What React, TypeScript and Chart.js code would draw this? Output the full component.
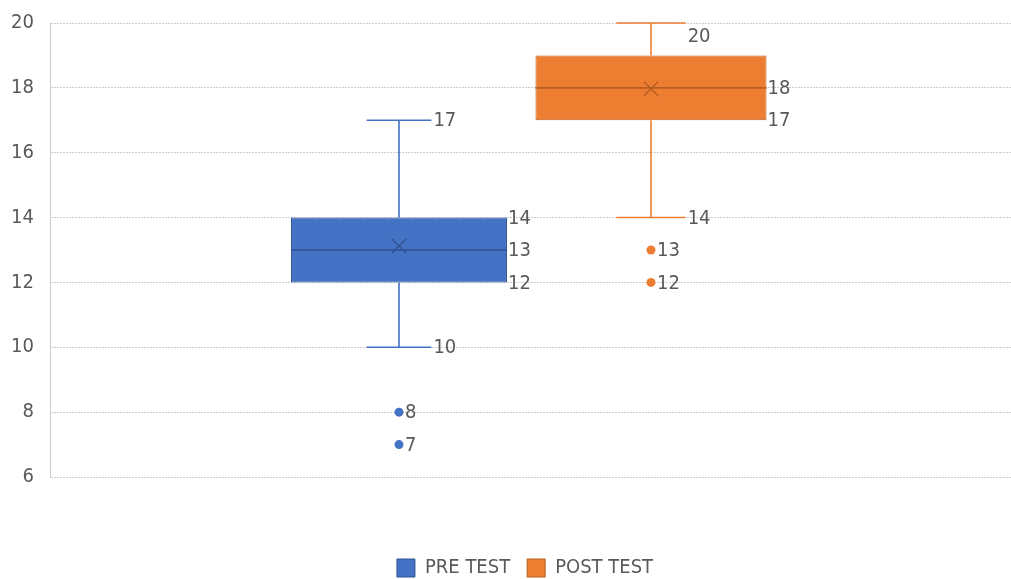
import React, { useEffect, useRef } from 'react';
import { Chart, registerables } from 'chart.js';

Chart.register(...registerables);

// ---- data ----
const categories = ['Score'];
const seriesNames = ['PRE TEST', 'POST TEST'];
const q1Values = [12, 17];
const medianValues = [13, 18];
const q3Values = [14, 19];
const whiskerMinValues = [10, 14];
const whiskerMaxValues = [17, 20];
const meanValues = [13.12, 17.97];
const outlierValues = [[8, 7], [13, 12]];
const showQ3Label = [true, false];
const yTickMin = 6;
const yTickMax = 20;
const yTickStep = 2;

// ---- styles ----
const fillColors = ['#4472C4', '#ED7D31'];
const edgeColors = ['#2F528F', '#B85E22'];
const textColor = '#595959';
const gridColor = '#CDCDCD';
const fontFamily = '"DejaVu Sans Condensed", "Liberation Sans", Arial, sans-serif';
const labelFont = '20px ' + fontFamily;

const boxPlugin = {
  id: 'boxWhisker',
  beforeDatasetsDraw(chart: any) {
    // extend the dashed gridlines to the right edge of the canvas
    const { ctx, chartArea, scales } = chart;
    const y = scales.y;
    ctx.save();
    ctx.strokeStyle = gridColor;
    ctx.lineWidth = 1;
    ctx.setLineDash([2, 1]);
    y.ticks.forEach((t: any) => {
      const py = Math.round(y.getPixelForValue(t.value) - 0.5) + 0.5;
      ctx.beginPath();
      ctx.moveTo(chartArea.right, py);
      ctx.lineTo(chart.width, py);
      ctx.stroke();
    });
    ctx.restore();
  },
  afterDatasetsDraw(chart: any) {
    const { ctx, scales } = chart;
    const y = scales.y;
    ctx.save();
    chart.data.datasets.forEach((ds: any, i: number) => {
      const meta = chart.getDatasetMeta(i);
      const el = meta.data[0];
      if (!el) return;
      const cx = el.x;
      const w = el.width;
      const left = cx - w / 2;
      const right = cx + w / 2;
      const capHalf = w * 0.15;
      const yQ1 = y.getPixelForValue(q1Values[i]);
      const yQ3 = y.getPixelForValue(q3Values[i]);
      const yMed = y.getPixelForValue(medianValues[i]);
      const yMin = y.getPixelForValue(whiskerMinValues[i]);
      const yMax = y.getPixelForValue(whiskerMaxValues[i]);
      const yMean = y.getPixelForValue(meanValues[i]);

      // whiskers
      ctx.strokeStyle = fillColors[i];
      ctx.lineWidth = 1.6;
      ctx.setLineDash([]);
      ctx.beginPath();
      ctx.moveTo(cx, yQ3);
      ctx.lineTo(cx, yMax);
      ctx.moveTo(cx - capHalf, yMax);
      ctx.lineTo(cx + capHalf, yMax);
      ctx.moveTo(cx, yQ1);
      ctx.lineTo(cx, yMin);
      ctx.moveTo(cx - capHalf, yMin);
      ctx.lineTo(cx + capHalf, yMin);
      ctx.stroke();

      // median
      ctx.strokeStyle = edgeColors[i];
      ctx.lineWidth = 1.6;
      ctx.beginPath();
      ctx.moveTo(left, yMed);
      ctx.lineTo(right, yMed);
      ctx.stroke();

      // mean marker
      const m = 7;
      ctx.lineWidth = 1.4;
      ctx.beginPath();
      ctx.moveTo(cx - m, yMean - m);
      ctx.lineTo(cx + m, yMean + m);
      ctx.moveTo(cx + m, yMean - m);
      ctx.lineTo(cx - m, yMean + m);
      ctx.stroke();

      // outliers
      ctx.fillStyle = fillColors[i];
      outlierValues[i].forEach((v) => {
        ctx.beginPath();
        ctx.arc(cx, y.getPixelForValue(v), 4.5, 0, Math.PI * 2);
        ctx.fill();
      });

      // labels
      ctx.fillStyle = textColor;
      ctx.font = labelFont;
      ctx.textAlign = 'left';
      ctx.textBaseline = 'middle';
      const put = (v: number, x: number) => {
        let py = y.getPixelForValue(v) + 1;
        if (py - 10 < chart.chartArea.top) py += 13;
        ctx.fillText(String(v), x, py);
      };
      put(whiskerMaxValues[i], cx + capHalf + 2);
      put(whiskerMinValues[i], cx + capHalf + 2);
      if (showQ3Label[i]) put(q3Values[i], right + 1);
      put(medianValues[i], right + 1);
      put(q1Values[i], right + 1);
      outlierValues[i].forEach((v) => put(v, cx + 6));
    });
    ctx.restore();
  },
};

export default function App() {
  const canvasRef = useRef<HTMLCanvasElement | null>(null);

  useEffect(() => {
    const canvas = canvasRef.current;
    if (!canvas) return;
    const chart = new Chart(canvas, {
      type: 'bar',
      data: {
        labels: categories,
        datasets: seriesNames.map((name, i) => ({
          label: name,
          data: [[q1Values[i], q3Values[i]]] as any,
          backgroundColor: fillColors[i],
          borderColor: edgeColors[i],
          borderWidth: 1,
          borderSkipped: false,
          categoryPercentage: 0.5305,
          barPercentage: i === 0 ? 0.857 : 0.917,
        })),
      },
      options: {
        animation: false,
        responsive: false,
        maintainAspectRatio: false,
        layout: { padding: { top: 23, left: 0, right: 11, bottom: 0 } },
        plugins: {
          tooltip: { enabled: false },
          legend: {
            position: 'bottom',
            fullSize: false,
            labels: {
              boxWidth: 18,
              boxHeight: 18,
              padding: 17,
              color: textColor,
              font: { family: fontFamily, size: 20 },
            },
          },
        },
        scales: {
          x: {
            type: 'category',
            grid: { display: false },
            border: { display: false },
            ticks: { display: false },
            afterFit(scale: any) {
              scale.height = 64;
              scale.paddingLeft = 0;
              scale.paddingRight = 0;
            },
          },
          y: {
            min: yTickMin,
            max: yTickMax,
            ticks: {
              stepSize: yTickStep,
              color: textColor,
              padding: 16,
              font: { family: fontFamily, size: 20 },
            },
            grid: { color: gridColor, drawTicks: false, lineWidth: 1 },
            border: { display: true, color: gridColor, dash: [2, 1] },
            afterFit(scale: any) {
              scale.width = 50;
              scale.paddingTop = 0;
              scale.paddingBottom = 0;
            },
          },
        },
      },
      plugins: [boxPlugin],
    });
    return () => chart.destroy();
  }, []);

  return (
    <div style={{ position: 'fixed', left: 0, top: 0, width: 1011, height: 579, overflow: 'hidden', background: '#fff' }}>
      <canvas ref={canvasRef} width={1011} height={588} style={{ width: 1011, height: 588, display: 'block' }} />
    </div>
  );
}
